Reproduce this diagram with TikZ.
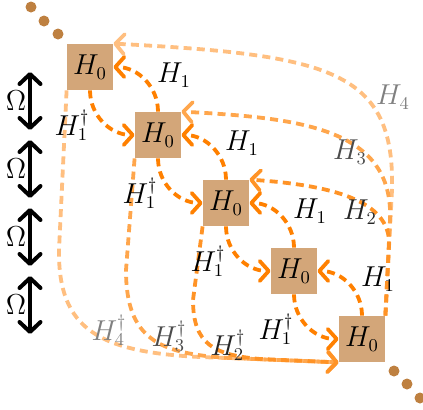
\documentclass[tikz,border=0pt]{standalone}
\usetikzlibrary{arrows.meta}
\definecolor{boxcol}{RGB}{211,166,121}
\definecolor{dotcol}{RGB}{190,128,64}
\definecolor{hor}{RGB}{255,128,0}
\begin{document}
\begin{tikzpicture}[x=0.5pt,y=-0.5pt,
  font=\fontsize{13.5}{15}\selectfont,
  hbox/.style={rectangle,fill=boxcol,minimum size=23pt,inner sep=0pt},
  hbase/.style={line width=1.9pt,dash pattern=on 4pt off 2.6pt,
    -{Straight Barb[length=4.5pt,width=10pt,round]}},
  hone/.style={hbase,draw=hor},
  htwo/.style={hbase,draw=hor!85},
  hthree/.style={hbase,draw=hor!70},
  hfour/.style={hbase,draw=hor!50},
  omega/.style={line width=2pt,
    {Straight Barb[length=5pt,width=10.5pt,round]}-{Straight Barb[length=5pt,width=10.5pt,round]}},
  lbl/.style={inner sep=0pt},
  dotst/.style={circle,fill=dotcol,minimum size=5.5pt,inner sep=0pt}
]
\useasboundingbox (0,0) rectangle (423,409);

% dots
\node[dotst] (d1) at (31,7) {};
\node[dotst] (d2) at (44,21) {};
\node[dotst] (d3) at (58,34) {};
\node[dotst] (d4) at (394,371) {};
\node[dotst] (d5) at (407,384) {};
\node[dotst] (d6) at (420,398) {};

% boxes
\node[hbox] (B1) at (90,67) {$H_0$};
\node[hbox] (B2) at (158,135) {$H_0$};
\node[hbox] (B3) at (226,203) {$H_0$};
\node[hbox] (B4) at (294,271) {$H_0$};
\node[hbox] (B5) at (362,339) {$H_0$};

% Omega arrows
\foreach \k in {0,1,2,3}{
  \coordinate (Oa\k) at (30,{72+68*\k});
  \coordinate (Ob\k) at (30,{130+68*\k});
  \draw[omega] (Oa\k) -- (Ob\k);
  \node[lbl] (Ol\k) at (16,{101+68*\k}) {$\Omega$};
}

% far couplings (right)
\draw[hfour] (B5.north east) -- (392,190) .. controls (395,70) and (330,55) .. (B1.north east);
\draw[hthree] (B5.north east) -- (390,220) .. controls (394,128) and (300,118) .. (B2.north east);
\draw[htwo] (B5.north east) -- (389,245) .. controls (391,200) and (330,185) .. (B3.north east);

% far couplings (left)
\draw[hfour] (B1.south west) -- (59,250) .. controls (58,330) and (100,352) .. (200,357) -- (B5.south west);
\draw[hthree] (B2.south west) -- (126,270) .. controls (126,340) and (160,354) .. (230,358) -- (B5.south west);
\draw[htwo] (B3.south west) -- (193,300) .. controls (193,345) and (215,355) .. (260,359) -- (B5.south west);

% nearest couplings
\draw[hone] (B2.north) to[out=90,in=0] (B1.east);
\draw[hone] (B3.north) to[out=90,in=0] (B2.east);
\draw[hone] (B4.north) to[out=90,in=0] (B3.east);
\draw[hone] (B5.north) to[out=90,in=0] (B4.east);
\draw[hone] (B1.south) to[out=-90,in=180] (B2.west);
\draw[hone] (B2.south) to[out=-90,in=180] (B3.west);
\draw[hone] (B3.south) to[out=-90,in=180] (B4.west);
\draw[hone] (B4.south) to[out=-90,in=180] (B5.west);

% labels
\node[lbl] (a1) at (174,75) {$H_1$};
\node[lbl] (a2) at (242,143) {$H_1$};
\node[lbl] (a3) at (310,211) {$H_1$};
\node[lbl] (a4) at (378,279) {$H_1$};
\node[lbl] (b1) at (72,125) {$H_1^\dagger$};
\node[lbl] (b2) at (140,193) {$H_1^\dagger$};
\node[lbl] (b3) at (208,261) {$H_1^\dagger$};
\node[lbl] (b4) at (276,329) {$H_1^\dagger$};
\node[lbl,text=black!85] (c2) at (360,212) {$H_2$};
\node[lbl,text=black!70] (c3) at (350,152) {$H_3$};
\node[lbl,text=black!50] (c4) at (393,97) {$H_4$};
\node[lbl,text=black!85] (e2) at (228,345) {$H_2^\dagger$};
\node[lbl,text=black!70] (e3) at (169,336) {$H_3^\dagger$};
\node[lbl,text=black!50] (e4) at (109,330) {$H_4^\dagger$};
\end{tikzpicture}
\end{document}
